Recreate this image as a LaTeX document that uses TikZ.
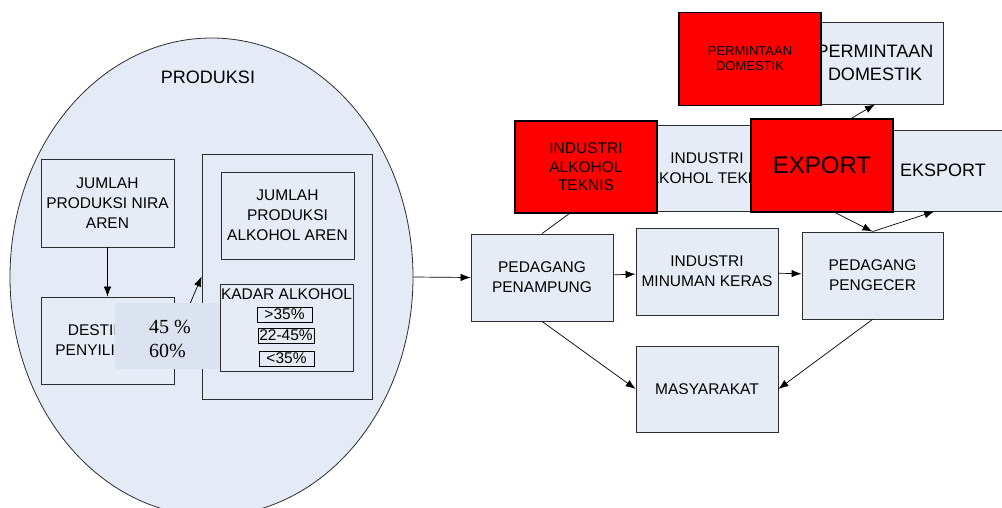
\documentclass[tikz,border=0pt]{standalone}
\usepackage{fontspec}
\setmainfont{Liberation Sans}
\newfontfamily\timesfont{Liberation Serif}
\usetikzlibrary{arrows.meta,shapes.geometric}
\definecolor{BoxClr}{RGB}{230,236,246}
\definecolor{EllClr}{RGB}{228,234,246}
\definecolor{PctClr}{RGB}{218,227,239}
\definecolor{RedBox}{RGB}{255,0,0}
\definecolor{EdgeClr}{RGB}{45,45,45}

\begin{document}
\begin{tikzpicture}[x=1pt,y=-1pt,
  box/.style={draw=EdgeClr,fill=BoxClr,line width=0.8pt,inner sep=0pt,align=center,
    font=\fontsize{15.5}{20}\selectfont},
  redbox/.style={draw=black,fill=RedBox,line width=1.6pt,inner sep=0pt,align=center},
  pctbox/.style={draw=black,line width=0.6pt,inner sep=0pt,minimum height=15,
    font=\fontsize{15.5}{15}\selectfont},
  arr/.style={-{Latex[length=10pt,width=7.5pt]},line width=0.7pt},
  link/.style={line width=0.7pt}]

\useasboundingbox (0,0) rectangle (1002,507);
\clip (0,0) rectangle (1002,507);

% produksi
\node[ellipse,draw=EdgeClr,fill=EllClr,line width=0.8pt,inner sep=0pt,
  minimum width=403,minimum height=478] (prod) at (211.5,277) {};
\node[font=\fontsize{18}{22}\selectfont] (prodlbl) at (208,77) {PRODUKSI};

\node[box,minimum width=133,minimum height=88] (nira) at (107.5,203) {JUMLAH\\PRODUKSI NIRA\\AREN};
\node[box,minimum width=133,minimum height=87] (destil) at (107.5,340.5) {DESTILASI\\PENYILINGAN};
\node[draw=EdgeClr,line width=0.8pt,minimum width=170,minimum height=245,inner sep=0pt] (alkbox) at (287,276.5) {};
\node[box,minimum width=133,minimum height=87] (aren) at (287.5,215.5) {JUMLAH\\PRODUKSI\\ALKOHOL AREN};
\node[box,minimum width=133,minimum height=87] (kadar) at (286.5,327.5) {};
\node[font=\fontsize{15.5}{18}\selectfont,inner sep=0pt] (kadarlbl) at (286.5,294) {KADAR ALKOHOL};
\node[pctbox,minimum width=55] (atas) at (284.5,314.5) {>35\%};
\node[pctbox,minimum width=56] (tengah) at (286,335.5) {22-45\%};
\node[pctbox,minimum width=55] (bawah) at (286.5,358.5) {<35\%};

\draw[arr] (nira) -- (destil);
\draw[arr] (destil.east) -- (alkbox.west);

\node[fill=PctClr,minimum width=105,minimum height=66,inner sep=0pt] (pct) at (167.5,336) {};
\node[anchor=west,align=left,inner sep=0pt,font=\timesfont\fontsize{20}{24}\selectfont] (pcttxt) at (149,339) {45 \%\\60\%};

% pasar
\node[box,minimum width=155,minimum height=86] (indlight) at (707,168) {INDUSTRI\\ALKOHOL TEKNIS};
\node[redbox,minimum width=142,minimum height=92,font=\fontsize{15.5}{18.5}\selectfont] (indred) at (586,167) {INDUSTRI\\ALKOHOL\\TEKNIS};
\node[box,minimum width=136,minimum height=82,font=\fontsize{18}{23}\selectfont] (permlight) at (875,63) {PERMINTAAN\\DOMESTIK};
\node[redbox,minimum width=142,minimum height=93,font=\fontsize{13}{15}\selectfont] (permred) at (750,59) {PERMINTAAN\\DOMESTIK};
\node[box,minimum width=130,minimum height=81,font=\fontsize{18}{22}\selectfont] (eksport) at (943,170.5) {EKSPORT};
\node[redbox,minimum width=142,minimum height=93,font=\fontsize{24}{28}\selectfont] (export) at (822,165.5) {EXPORT};

\node[box,minimum width=142,minimum height=87] (penampung) at (542,277.5) {PEDAGANG\\PENAMPUNG};
\node[box,minimum width=142,minimum height=87] (minuman) at (707,271.5) {INDUSTRI\\MINUMAN KERAS};
\node[box,minimum width=141,minimum height=87] (pengecer) at (872.5,275.5) {PEDAGANG\\PENGECER};
\node[box,minimum width=142,minimum height=86] (masyarakat) at (707,389) {MASYARAKAT};

\draw[arr] (prod.east) -- (penampung.west);
\draw[arr] (penampung) -- (minuman);
\draw[arr] (minuman) -- (pengecer);
\draw[arr] (penampung.south) -- (masyarakat.west);
\draw[arr] (pengecer.south) -- (masyarakat.east);
\draw[link] (penampung.north) -- (indred.-110);
\draw[arr] (export.-74) -- (pengecer.north);
\draw[arr] (pengecer.north) -- (eksport.-102);
\draw[arr] (export.58) -- (permlight.south);

\end{tikzpicture}
\end{document}
